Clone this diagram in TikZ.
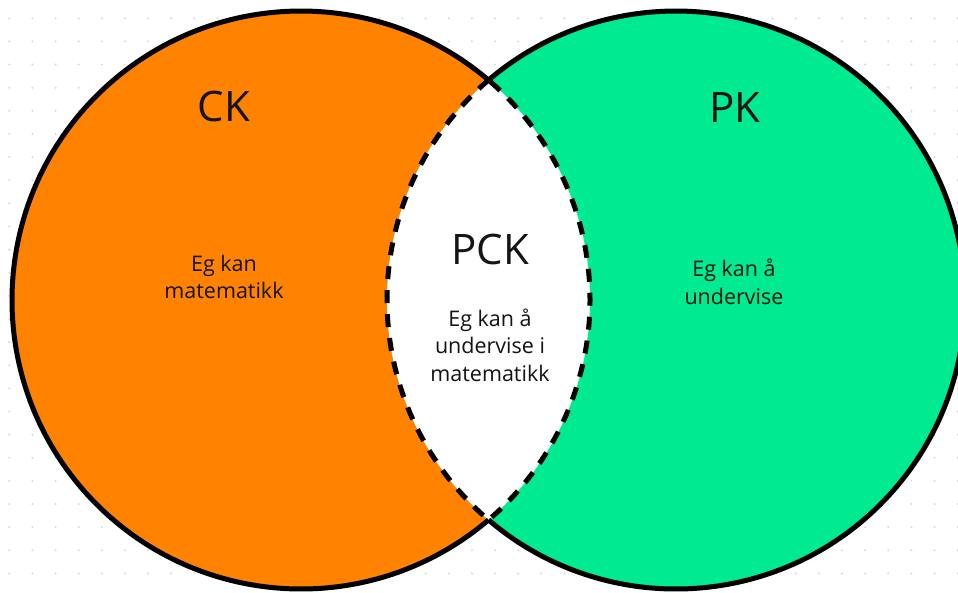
\documentclass[tikz,border=0pt]{standalone}
\usepackage{fontspec}
\setmainfont{Open Sans}
\usepackage{tikz}

\definecolor{ckorange}{RGB}{255,130,0}
\definecolor{pkgreen}{RGB}{0,234,145}
\definecolor{dotgrey}{RGB}{218,220,228}
\definecolor{inkblack}{RGB}{20,20,20}

\begin{document}
\begin{tikzpicture}[x=1pt,y=-1pt,
  rim/.style={line width=5pt},
  lensrim/.style={line width=5pt,dash pattern=on 13pt off 11pt},
  bigtext/.style={text=inkblack,font=\fontsize{42}{50}\selectfont},
  smalltext/.style={text=inkblack,align=center,font=\fontsize{21.5}{27.5}\selectfont}]
\useasboundingbox (0,0) rectangle (958,592);
\clip (0,0) rectangle (958,592);

% dotted background
\foreach \i in {0,...,41}
  \foreach \j in {0,...,24}
    \fill[dotgrey] (9.3+\i*23.13,18.3+\j*23.13) circle (1.2);

% the two sets and the overlap
\fill[ckorange] (301,300) circle (289);
\fill[pkgreen] (676,300) circle (289);
\begin{scope}
\clip (301,300) circle (289);
\fill[white] (676,300) circle (289);
\end{scope}

\draw[rim] ([shift={(301,300)}]49.55:289) arc[start angle=49.55, end angle=310.45, radius=289];
\draw[rim] ([shift={(676,300)}]130.45:289) arc[start angle=130.45, end angle=-130.45, radius=289];

\draw[lensrim] ([shift={(676,300)}]-130.45:289) arc[start angle=-130.45, end angle=-229.55, radius=289]
  arc[start angle=49.55, end angle=-49.55, radius=289];

\node[bigtext] (ck) at (224,106) {CK};

\node[bigtext] (pk) at (735,108) {PK};

\node[bigtext] (pck) at (490,249) {PCK};

\node[smalltext] (cktext) at (224,277) {Eg kan\\matematikk};

\node[smalltext] (pktext) at (734,282) {Eg kan å\\undervise};

\node[smalltext] (pcktext) at (490,345) {Eg kan å\\undervise i\\matematikk};
\end{tikzpicture}
\end{document}
